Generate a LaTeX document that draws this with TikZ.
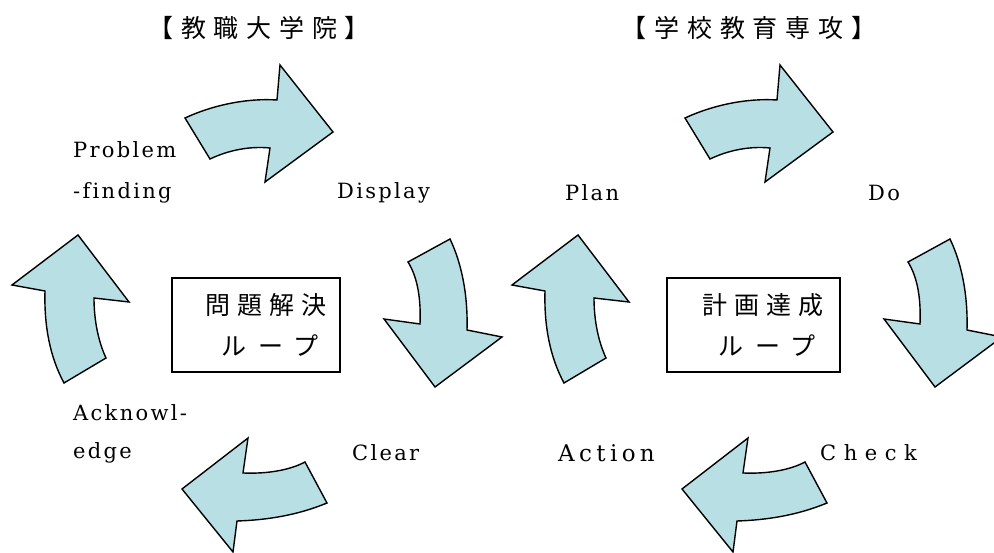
\documentclass[tikz,border=0pt]{standalone}
\usepackage{fontspec}
\setmainfont{DejaVu Serif}[Ligatures=NoCommon]
\newfontfamily\jpfont{Noto Sans CJK JP}
\definecolor{arrowfill}{RGB}{184,223,228}
\tikzset{
  x=1pt, y=-1pt,
  bigarrow/.style={draw=black, line width=1.4pt, fill=arrowfill, line join=miter},
  lbl/.style={anchor=west, inner sep=0pt, font=\fontsize{21}{23}\selectfont\addfontfeatures{LetterSpace=11}},
  ttl/.style={inner sep=0pt, font=\fontsize{25}{27}\jpfont\addfontfeatures{LetterSpace=31}},
  loopbox/.style={draw=black, line width=1.2pt, minimum width=168pt, minimum height=94pt, inner sep=0pt},
  boxtxt/.style={inner sep=0pt, font=\fontsize{25}{27}\jpfont\addfontfeatures{LetterSpace=28}},
  boxtxtw/.style={inner sep=0pt, font=\fontsize{25}{27}\jpfont\addfontfeatures{LetterSpace=46}},
}
\newcommand{\arrowset}[1]{%
\begin{scope}[xshift=#1]
\draw[bigarrow] (185,118) .. controls (213,105) and (247,98) .. (277,100) -- (280,65) -- (333,132) -- (265,182) -- (270,148) .. controls (250,146) and (229,150) .. (210,159) -- cycle;
\draw[bigarrow] (408,262) -- (450,239) .. controls (462,264) and (468,296) .. (467,330) -- (502,337) -- (435,387) -- (384,319) -- (420,324) .. controls (421,300) and (418,278) .. (408,262) -- cycle;
\draw[bigarrow] (78,235) -- (129,302) -- (94,298) .. controls (94,322) and (99,343) .. (106,358) -- (64,383) .. controls (50,357) and (44,326) .. (45,291) -- (12,285) -- cycle;
\draw[bigarrow] (248,438) -- (243,473) .. controls (268,474) and (290,470) .. (305,462) -- (327,503) .. controls (298,515) and (268,520) .. (237,521) -- (233,552) -- (182,489) -- cycle;
\end{scope}}
\begin{document}
\begin{tikzpicture}
\useasboundingbox (0,0) rectangle (994,553);
\begin{scope}
\clip (0,0) rectangle (994,553);
\arrowset{0pt}
\arrowset{500pt}
\end{scope}
\node[ttl] (t1) at (259,28) {【教職大学院】};
\node[ttl] (t2) at (749,28) {【学校教育専攻】};
\node[loopbox] (b1) at (256,325) {};
\node[boxtxt] (b1a) at (266,305) {問題解決};
\node[boxtxtw] (b1b) at (270,346) {ループ};
\node[loopbox, minimum width=173pt] (b2) at (753.5,325) {};
\node[boxtxt] (b2a) at (763,305) {計画達成};
\node[boxtxtw] (b2b) at (767,346) {ループ};
\node[lbl] (l1) at (73,150) {Problem};
\node[lbl] (l2) at (73,193) {-finding};
\node[lbl] (l3) at (337,193) {Display};
\node[lbl] (l4) at (565,193) {Plan};
\node[lbl] (l5) at (868,193) {Do};
\node[lbl] (l6) at (73,413) {Acknowl-};
\node[lbl] (l7) at (73,453) {edge};
\node[lbl] (l8) at (352,453) {Clear};
\node[lbl, font=\fontsize{23}{25}\selectfont\addfontfeatures{LetterSpace=19}] (l9) at (558,453) {Action};
\node[lbl, font=\fontsize{21}{23}\selectfont\addfontfeatures{LetterSpace=36}] (l10) at (820,453) {Check};
\end{tikzpicture}
\end{document}
